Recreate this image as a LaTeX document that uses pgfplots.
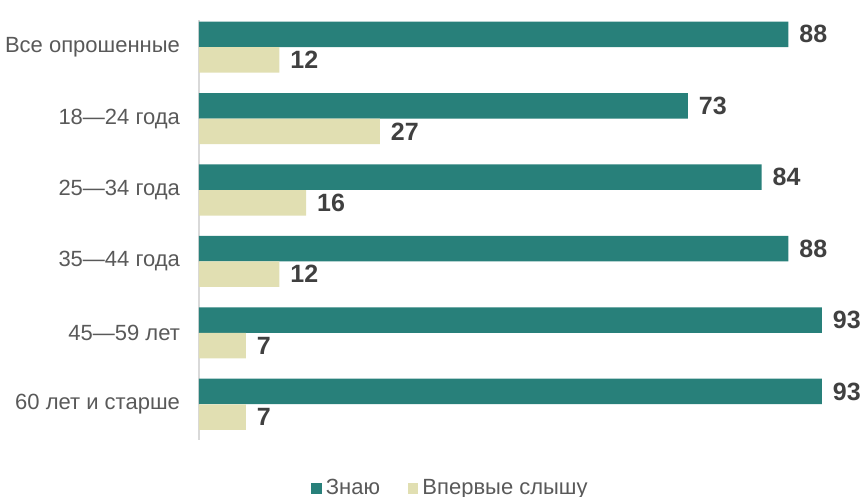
\documentclass[border=0pt]{standalone}
\usepackage{fontspec}
\setmainfont{Liberation Sans}
\usepackage{pgfplots}
\pgfplotsset{compat=1.18}

\definecolor{znayu}{HTML}{28807A}
\definecolor{vpervye}{HTML}{E1DFB2}
\definecolor{labgray}{HTML}{595959}
\definecolor{valgray}{HTML}{404040}
\definecolor{axgray}{HTML}{D9D9D9}

\begin{document}
\begin{tikzpicture}
    \useasboundingbox (-99.5pt,-28.5pt) rectangle (334pt,220pt);
    \begin{axis}[
        at={(0,0)}, anchor=south west,
        scale only axis,
        width=325.5pt, height=210pt,
        xbar,
        bar width=12.75pt,
        xmin=0, xmax=97.2,
        ymin=-0.5, ymax=5.38,
        hide x axis,
        axis y line*=left,
        y axis line style={draw=axgray, line width=1pt},
        ytick={0,1,2,3,4,5},
        yticklabels={60 лет и старше, 45—59 лет, 35—44 года, 25—34 года, 18—24 года, Все опрошенные},
        major tick length=0pt,
        yticklabel style={font=\fontsize{11}{13}\selectfont, text=labgray, xshift=-6pt},
        clip=false,
        /pgf/number format/assume math mode=true,
        nodes near coords,
        nodes near coords align={horizontal},
        every node near coord/.append style={font=\fontsize{12.5}{14}\selectfont\bfseries, text=valgray, xshift=2pt},
        legend columns=2,
        legend style={at={(0.388,-0.115)}, anchor=center, draw=none, fill=none,
            font=\fontsize{11}{13}\selectfont, text=labgray,
            /tikz/every even column/.append style={column sep=12pt}},
        legend image code/.code={\fill[#1] (0pt,-2.6pt) rectangle (5.2pt,2.6pt);},
    ]
        \addplot[fill=znayu, draw=none, bar shift=6.4pt] coordinates {
            (93,0) (93,1) (88,2) (84,3) (73,4) (88,5)};
        \addplot[fill=vpervye, draw=none, bar shift=-6.4pt] coordinates {
            (7,0) (7,1) (12,2) (16,3) (27,4) (12,5)};
        \legend{Знаю, Впервые слышу}
    \end{axis}
\end{tikzpicture}
\end{document}
